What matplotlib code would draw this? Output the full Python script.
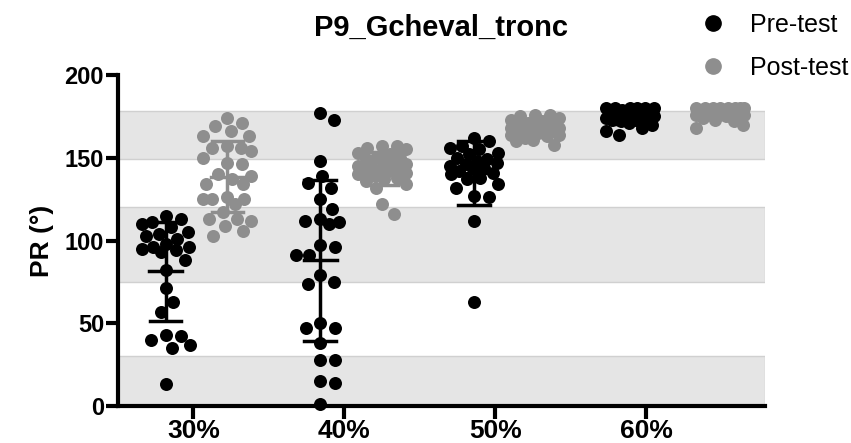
import numpy as np
import matplotlib.pyplot as plt
from matplotlib.lines import Line2D

plt.rcParams['font.family'] = ['Liberation Sans', 'DejaVu Sans']

groups = ['30%', '40%', '50%', '60%']

pre_30 = [115, 113, 111, 110, 108, 105, 104, 103, 101, 98, 96, 96, 95, 94, 93,
          88, 82, 71, 63, 57, 43, 42, 40, 37, 35, 13]
post_30 = [174, 169, 171, 166, 163, 163, 156, 156, 154, 157, 150, 146, 147, 140,
           137, 139, 134, 134, 125, 126, 125, 125, 122, 117, 112, 113, 113, 109,
           106, 103]
pre_40 = [177, 173, 148, 139, 132, 135, 125, 119, 112, 110, 111, 113, 97, 96,
          91, 91, 79, 74, 75, 47, 47, 50, 38, 28, 28, 15, 14, 1]
post_40 = [157, 157, 156, 155, 153, 152, 150, 150, 149, 148, 147, 146, 145, 144,
           144, 143, 142, 142, 141, 140, 139, 138, 137, 136, 134, 132, 122, 116]
pre_50 = [162, 160, 157, 156, 155, 153, 152, 150, 149, 148, 147, 146, 145, 144,
          143, 142, 141, 140, 138, 137, 134, 132, 127, 126, 112, 63]
post_50 = [176, 176, 175, 174, 173, 172, 171, 170, 170, 169, 168, 168, 167, 167,
           166, 166, 165, 165, 164, 164, 163, 162, 161, 160, 158]
pre_60 = [180, 180, 180, 180, 180, 180, 179, 178, 178, 177, 176, 176, 175, 175,
          174, 174, 173, 173, 172, 171, 170, 168, 166, 164]
post_60 = [180, 180, 180, 180, 180, 180, 180, 180, 179, 179, 178, 178, 177, 177,
           176, 176, 175, 174, 173, 172, 170, 168]

# shaded reference ranges
bands = [(0, 30), (75, 120), (149, 178)]

pre_sets = [pre_30, pre_40, pre_50, pre_60]
post_sets = [post_30, post_40, post_50, post_60]

# column centres relative to the group ticks
pre_off = [-0.185, -0.16, -0.14, -0.11]
post_off = [0.225, 0.25, 0.26, 0.49]

BLACK = '#000000'
GREY = '#8e8e8e'

W, H = 851, 443
fig = plt.figure(figsize=(W / 100, H / 100), dpi=100)
ax = fig.add_axes([118 / W, 1 - 406 / H, (765 - 118) / W, (406 - 75) / H])
ax.set_xlim(-0.5, 3.785)
ax.set_ylim(0, 200)

px_x = (765 - 118) / 4.285   # pixels per x unit
px_y = (406 - 75) / 200.0    # pixels per y unit
dot = 13.0                    # marker diameter in pixels
half_w = 24.0                 # widest offset of a point centre, pixels


def swarm(vals, gap):
    # beeswarm kept inside +-half_w; when crowded, take the least overlapping slot
    vals = np.asarray(vals, float)
    xs = np.zeros(len(vals))
    placed = []
    steps = np.arange(0.5, half_w + 0.01, 0.5)
    cands = np.concatenate([[0], np.ravel(np.column_stack([steps, -steps]))])
    for i in np.argsort(vals)[::-1]:
        yy = vals[i] * px_y
        best, best_d = 0.0, -1.0
        for c in cands:
            d = min([np.hypot(c - px, yy - py) for px, py in placed] + [1e9])
            if d >= gap:
                best = c
                break
            if d > best_d:
                best, best_d = c, d
        placed.append((best, yy))
        xs[i] = best
    return xs / px_x


for band in bands:
    ax.axhspan(band[0], band[1], facecolor='#e5e5e5', edgecolor='#d0d0d0',
               linewidth=1, zorder=0)


def column(vals, xc, color):
    vals = np.asarray(vals, float)
    m, sd = vals.mean(), vals.std(ddof=1)
    ax.plot([xc, xc], [m - sd, m + sd], color=color, lw=2.5, zorder=2,
            solid_capstyle='butt')
    for yv in (m - sd, m + sd):
        ax.plot([xc - 0.105, xc + 0.105], [yv, yv], color=color, lw=2.5, zorder=2)
    ax.plot([xc - 0.11, xc + 0.11], [m, m], color=color, lw=2.5, zorder=2)
    xs = xc + swarm(vals, dot * 1.15)
    ax.scatter(xs, vals, s=(dot * 0.72) ** 2, color=color, linewidths=0,
               zorder=3, clip_on=False)


for g in range(len(groups)):
    column(pre_sets[g], g + pre_off[g], BLACK)
    column(post_sets[g], g + post_off[g], GREY)

for side in ('top', 'right'):
    ax.spines[side].set_visible(False)
for side in ('left', 'bottom'):
    ax.spines[side].set_linewidth(3)
    ax.spines[side].set_zorder(4)

ax.set_yticks([0, 50, 100, 150, 200])
ax.set_xticks(range(len(groups)))
ax.set_xticklabels(groups)
ax.tick_params(axis='both', width=3, length=9, direction='out')
ax.tick_params(axis='y', labelsize=17, pad=1)
ax.tick_params(axis='x', labelsize=19, pad=0)
for lab in ax.get_xticklabels() + ax.get_yticklabels():
    lab.set_fontweight('bold')

ax.set_ylabel('PR (°)', fontsize=19, fontweight='bold', labelpad=8)
ax.set_title('P9_Gcheval_tronc', fontsize=21, fontweight='bold', pad=28)

handles = [Line2D([], [], marker='o', ls='none', color=BLACK, markersize=11),
           Line2D([], [], marker='o', ls='none', color=GREY, markersize=11)]
fig.legend(handles, ['Pre-test', 'Post-test'], loc='upper left',
           bbox_to_anchor=(700 / W, 1 - 13 / H), frameon=False, fontsize=18,
           handletextpad=1.0, labelspacing=0.75, handlelength=1.0,
           borderpad=0, borderaxespad=0)

fig.savefig('out.png', dpi=100)
